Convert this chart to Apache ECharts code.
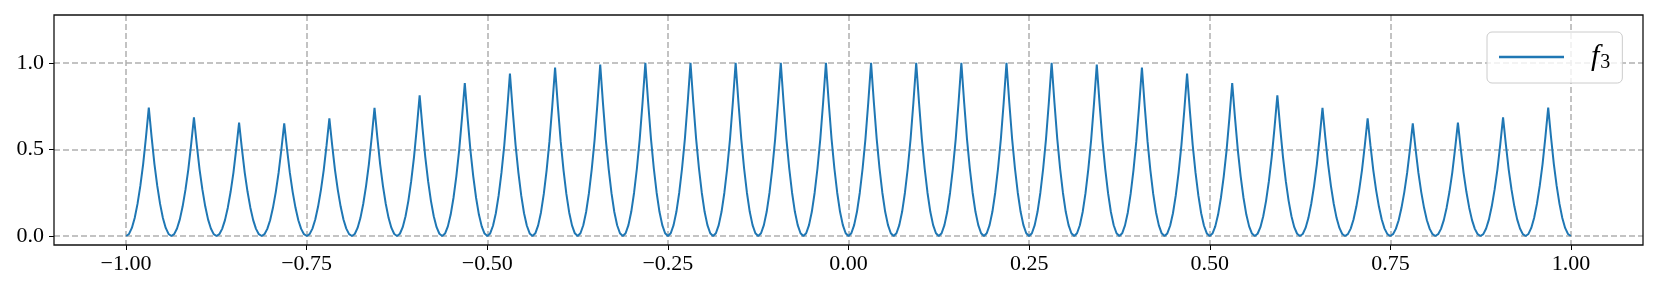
<!DOCTYPE html>
<html>
<head>
<meta charset="utf-8">
<script src="https://cdn.jsdelivr.net/npm/echarts@6/dist/echarts.min.js"></script>
<style>
  html, body { margin: 0; padding: 0; background: #fff; }
  #chart { width: 1659px; height: 291px; }
</style>
</head>
<body>
<div id="chart"></div>
<script>
// zero positions of the arcs (x)
const zeroXs = [-1, -0.9375, -0.875, -0.8125, -0.75, -0.6875, -0.625, -0.5625, -0.5,
  -0.4375, -0.375, -0.3125, -0.25, -0.1875, -0.125, -0.0625, 0,
  0.0625, 0.125, 0.1875, 0.25, 0.3125, 0.375, 0.4375, 0.5,
  0.5625, 0.625, 0.6875, 0.75, 0.8125, 0.875, 0.9375, 1];
// peak heights of each arc
const peakHeights = [0.742, 0.686, 0.655, 0.651, 0.680, 0.740, 0.813, 0.884, 0.938, 0.973, 0.990, 1.0, 1.0, 1.0, 1.0, 1.0,
  1.0, 1.0, 1.0, 1.0, 1.0, 0.990, 0.973, 0.938, 0.884, 0.813, 0.740, 0.680, 0.651, 0.655, 0.686, 0.742];
// normalised rise of one arc from its zero to its peak
const riseProfile = [0, 0.016, 0.063, 0.14, 0.25, 0.39, 0.56, 0.77, 1.0];
const xTicks = ['-1.00', '-0.75', '-0.50', '-0.25', '0.00', '0.25', '0.50', '0.75', '1.00'];
const yTicks = ['0.0', '0.5', '1.0'];
const seriesName = 'f3';

const data = [];
const n = riseProfile.length - 1;
for (let k = 0; k < peakHeights.length; k++) {
  const a = zeroXs[k], b = zeroXs[k + 1], mid = (a + b) / 2;
  for (let i = 0; i <= n; i++) {
    if (k > 0 && i === 0) continue;
    data.push([a + (mid - a) * i / n, peakHeights[k] * riseProfile[i]]);
  }
  for (let i = n - 1; i >= 0; i--) {
    data.push([b - (b - mid) * i / n, peakHeights[k] * riseProfile[i]]);
  }
}

const font = "'Liberation Serif', 'DejaVu Serif', serif";
const gridLine = { show: true, lineStyle: { color: '#b0b0b0', width: 1.5, type: [6, 3] } };
const minus = s => s.replace('-', '\u2212');

const chart = echarts.init(document.getElementById('chart'), null, { renderer: 'canvas' });
chart.setOption({
  animation: false,
  backgroundColor: '#fff',
  grid: [
    { left: 54, right: 16, top: 15, bottom: 46, show: true, borderColor: '#111', borderWidth: 1.3, backgroundColor: 'transparent', z: 3 },
    { left: 126, right: 88, top: 15, bottom: 46 },
    { left: 54, right: 16, top: 63, bottom: 55 }
  ],
  xAxis: [
    { gridIndex: 0, type: 'value', min: -1.1, max: 1.1, show: false },
    { gridIndex: 1, type: 'value', min: -1, max: 1, interval: 0.25,
      axisLine: { show: false },
      axisTick: { show: true, length: 5, lineStyle: { color: '#000', width: 1 } },
      axisLabel: { show: true, margin: 8, color: '#000', fontSize: 22, fontFamily: font,
        formatter: v => minus(xTicks[Math.round((v + 1) / 0.25)] || '') },
      splitLine: gridLine },
    { gridIndex: 2, type: 'value', min: 0, max: 1, show: false }
  ],
  yAxis: [
    { gridIndex: 0, type: 'value', min: -0.052, max: 1.277, show: false },
    { gridIndex: 1, type: 'value', min: 0, max: 1, show: false },
    { gridIndex: 2, type: 'value', min: 0, max: 1, interval: 0.5,
      axisLine: { show: false },
      axisTick: { show: true, length: 5, lineStyle: { color: '#000', width: 1 } },
      axisLabel: { show: true, margin: 10, color: '#000', fontSize: 22, fontFamily: font,
        formatter: v => yTicks[Math.round(v / 0.5)] || '' },
      splitLine: gridLine }
  ],
  legend: {
    show: true,
    left: 1487, top: 32,
    padding: [10, 12, 10, 12],
    itemWidth: 65, itemHeight: 2.5, itemGap: 0,
    icon: 'rect',
    borderColor: '#cccccc', borderWidth: 1, borderRadius: 5,
    backgroundColor: 'rgba(255,255,255,0.8)',
    data: [seriesName],
    formatter: () => '{f|f}{s|3}',
    textStyle: {
      padding: [0, 0, 0, 22],
      rich: {
        f: { fontFamily: font, fontStyle: 'italic', fontSize: 30, color: '#000' },
        s: { fontFamily: font, fontSize: 20, color: '#000', padding: [12, 0, 0, 1] }
      }
    }
  },
  series: [{
    name: seriesName,
    type: 'line',
    xAxisIndex: 0, yAxisIndex: 0,
    showSymbol: false,
    smooth: false,
    color: '#1f77b4',
    lineStyle: { color: '#1f77b4', width: 2 },
    z: 5,
    data: data
  }]
});
</script>
</body>
</html>
